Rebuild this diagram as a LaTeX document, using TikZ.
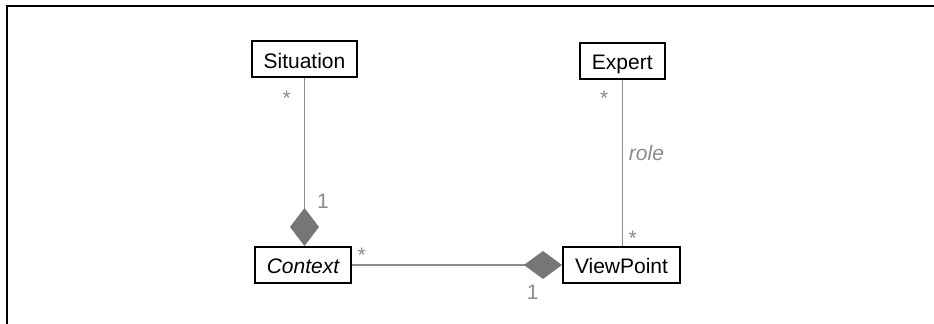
\documentclass[tikz,border=0pt]{standalone}
\usepackage{fontspec}
\setmainfont{Liberation Sans}
\usetikzlibrary{arrows.meta}
\definecolor{linegray}{RGB}{140,140,140}
\definecolor{diagray}{RGB}{118,118,118}
\begin{document}
\begin{tikzpicture}[x=0.5pt,y=-0.5pt,
		font=\fontsize{10.5}{12.6}\selectfont,
		cls/.style={draw=black,line width=1pt,fill=white,minimum height=18pt,inner xsep=6pt,inner ysep=0pt,text height=8.8pt,text depth=0pt},
		assoc/.style={draw=linegray,line width=0.6pt},
		mult/.style={text=linegray,anchor=base,inner sep=0pt}]
		\useasboundingbox (0,0) rectangle (934,324);
		\draw[line width=1pt] (6.5,324) -- (6.5,6.5) -- (934,6.5);
		\node[cls] (situation) at (304.5,59.5) {Situation};
		\node[cls] (context) at (303,265) {\itshape Context};
		\node[cls] (expert) at (622.3,61) {Expert};
		\node[cls] (viewpoint) at (621.5,265) {ViewPoint};
		\draw[assoc,-{Diamond[length=19pt,width=14.5pt,color=diagray]}] (situation.south) -- (situation |- context.north);
		\draw[assoc,-{Diamond[length=19pt,width=14pt,color=diagray]}] (context.east) -- (viewpoint.west);
		\draw[assoc] (expert.south) -- (expert |- viewpoint.north);
		\node[mult] (sitmult) at (286.7,105.5) {*};
		\node[mult] (ctxone) at (323,208.3) {1};
		\node[mult] (ctxmult) at (361.7,263) {*};
		\node[mult] (vpone) at (532.7,299.3) {1};
		\node[mult] (expmult) at (604.3,105.5) {*};
		\node[mult] (vpmult) at (632.7,245.5) {*};
		\node[mult] (role) at (646.5,160.7) {\itshape role};
	\end{tikzpicture}
\end{document}
